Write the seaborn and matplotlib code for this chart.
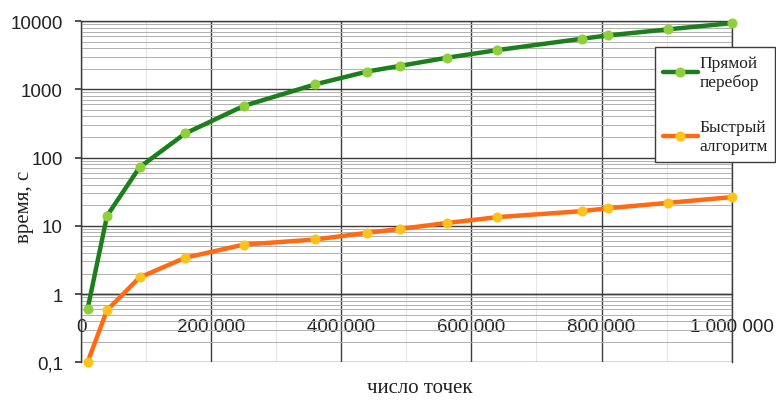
import matplotlib
matplotlib.use("Agg")
import matplotlib.pyplot as plt
import matplotlib.ticker as mticker
import seaborn as sns
import pandas as pd

# ---- data ----
n_points = [10000, 40000, 90000, 160000, 250000, 360000, 440000, 490000,
            562500, 640000, 770000, 810000, 902500, 1000000]
t_direct = [0.6, 14, 72, 225, 570, 1180, 1820, 2200, 2900, 3750, 5500, 6150, 7550, 9300]
t_fast = [0.1, 0.58, 1.75, 3.4, 5.3, 6.3, 7.9, 9.0, 11.0, 13.4, 16.4, 18.1, 21.7, 26.3]
series_names = ["Прямой\nперебор", "Быстрый\nалгоритм"]

x_ticks = [0, 200000, 400000, 600000, 800000, 1000000]
x_tick_labels = ["0", "200 000", "400 000", "600 000", "800 000", "1 000 000"]
y_ticks = [0.1, 1, 10, 100, 1000, 10000]
y_tick_labels = ["0,1", "1", "10", "100", "1000", "10000"]
x_label = "число точек"
y_label = "время, с"

df_direct = pd.DataFrame({"n": n_points, "t": t_direct})
df_fast = pd.DataFrame({"n": n_points, "t": t_fast})

sns.set_theme(style="white")
plt.rcParams["font.family"] = ["Liberation Sans", "DejaVu Sans"]

fig = plt.figure(figsize=(7.76, 4.06), dpi=100)
ax = fig.add_axes([0.1044, 0.1051, 0.8385, 0.8407])

sns.lineplot(data=df_direct, x="n", y="t", ax=ax, color="#1b7f1b", lw=3.2,
             marker="o", markersize=6.5, markerfacecolor="#8fd03a",
             markeredgecolor="#8fd03a", label=series_names[0], clip_on=False, zorder=5)
sns.lineplot(data=df_fast, x="n", y="t", ax=ax, color="#ff6a12", lw=3.2,
             marker="o", markersize=6.5, markerfacecolor="#ffc21a",
             markeredgecolor="#ffc21a", label=series_names[1], clip_on=False, zorder=5)

ax.set_yscale("log")
ax.set_xlim(0, 1000000)
ax.set_ylim(0.1, 10000)

ax.set_yticks(y_ticks)
ax.set_yticklabels(y_tick_labels)
ax.yaxis.set_minor_locator(mticker.LogLocator(base=10, subs=range(2, 10), numticks=20))
ax.yaxis.set_minor_formatter(mticker.NullFormatter())
ax.set_xticks(x_ticks)
ax.set_xticklabels(x_tick_labels)
ax.xaxis.set_minor_locator(mticker.MultipleLocator(100000))

ax.grid(which="major", axis="both", color="#3c3c3c", lw=1.0)
ax.grid(which="minor", axis="y", color="#b0b0b0", lw=0.7)
ax.grid(which="minor", axis="x", color="#e6e6e6", lw=0.8)
ax.set_axisbelow(True)

for s in ["left", "top", "right", "bottom"]:
    ax.spines[s].set_color("#3c3c3c")
    ax.spines[s].set_linewidth(1.0)
ax.spines["bottom"].set_position(("data", 1))

ax.tick_params(axis="y", which="major", length=4, color="#3c3c3c", pad=9,
               labelsize=13.5, labelcolor="#222222", left=True)
ax.tick_params(axis="y", which="minor", length=0)
ax.tick_params(axis="x", which="both", length=0, pad=17, labelsize=13.5,
               labelcolor="#222222")

ax.set_xlabel(x_label, family=["Liberation Serif", "DejaVu Serif"], fontsize=15,
              color="#222222")
ax.set_ylabel(y_label, family=["Liberation Serif", "DejaVu Serif"], fontsize=15,
              color="#222222")
ax.xaxis.set_label_coords(0.52, -0.075)
ax.xaxis.label.set_va("center")
ax.yaxis.set_label_coords(-0.087, 0.458)
ax.yaxis.label.set_va("center")

leg = ax.legend(loc="upper left", bbox_to_anchor=(655 / 776, 1 - 48 / 406),
                bbox_transform=fig.transFigure, frameon=True, fancybox=False,
                framealpha=1, edgecolor="#3c3c3c",
                prop={"family": ["Liberation Serif", "DejaVu Serif"], "size": 12.5},
                handlelength=2.0, handletextpad=0.1, labelspacing=1.7,
                borderpad=0.45, borderaxespad=0)
leg.get_frame().set_linewidth(1.0)
for t in leg.get_texts():
    t.set_color("#222222")

fig.savefig("out.png", dpi=100)
